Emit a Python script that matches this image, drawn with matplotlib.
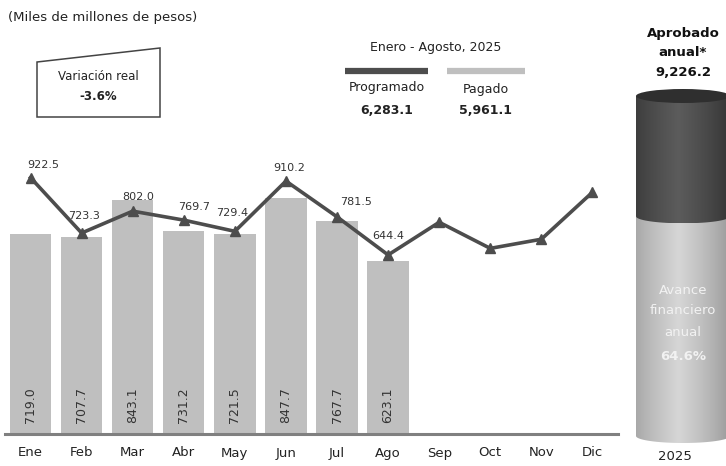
import numpy as np
import matplotlib
matplotlib.use('Agg')
from matplotlib import pyplot as plt
from matplotlib.patches import Polygon, Ellipse

plt.rcParams['font.family'] = ['DejaVu Sans']

meses = ['Ene', 'Feb', 'Mar', 'Abr', 'May', 'Jun', 'Jul', 'Ago', 'Sep', 'Oct', 'Nov', 'Dic']
pagado = [719.0, 707.7, 843.1, 731.2, 721.5, 847.7, 767.7, 623.1]
programado = [922.5, 723.3, 802.0, 769.7, 729.4, 910.2, 781.5, 644.4, 762.0, 668.0, 701.0, 870.0]
# offsets (pixels) of the value labels over the line
lab_off = [(13, 13), (2, 17), (5, 14), (10, 13), (-3, 18), (3, 13), (19, 15), (0, 19)]

aprobado_anual = 9226.2
total_prog = 6283.1
total_pag = 5961.1
variacion = -3.6

W, H = 726, 466
fig = plt.figure(figsize=(W / 100, H / 100), dpi=100)

BAR = '#bfbfbf'
LINE = '#4d4d4d'
TXT = '#333333'

# main chart
ax = fig.add_axes([5 / W, 32 / H, 613 / W, 334 / H])
x = np.arange(len(meses))
ax.bar(x[:len(pagado)], pagado, width=0.81, color=BAR, zorder=1)
ax.plot(x, programado, color=LINE, lw=2.6, marker='^', ms=6.5, zorder=3)
ax.set_xlim(-0.5, 11.5)
ax.set_ylim(0, 1202)
for s in ['top', 'left', 'right']:
    ax.spines[s].set_visible(False)
ax.spines['bottom'].set_color('#808080')
ax.spines['bottom'].set_linewidth(2.2)
ax.set_yticks([])
ax.set_xticks(x)
ax.set_xticklabels(meses, fontsize=9.5, color='#222222')
ax.tick_params(axis='x', length=0, pad=9)

for i, v in enumerate(pagado):
    ax.text(i, 29 * 3.6, f'{v:.1f}', rotation=90, ha='center', va='center',
            fontsize=9, color=TXT, zorder=2)
for i, v in enumerate(programado[:len(lab_off)]):
    ax.annotate(f'{v:.1f}', xy=(i, v), xytext=lab_off[i], textcoords='offset pixels',
                ha='center', va='center', fontsize=8, color=TXT, zorder=4)

# overlay for texts / boxes in pixel coords
ov = fig.add_axes([0, 0, 1, 1], zorder=5)
ov.set_xlim(0, W)
ov.set_ylim(H, 0)
ov.axis('off')
ov.patch.set_alpha(0)

ov.text(8, 18, '(Miles de millones de pesos)', fontsize=9.5, color='#222222', va='center')
ov.add_patch(Polygon([(37, 62), (160, 48), (160, 117), (37, 117)], closed=True,
                     fill=False, ec='#444444', lw=1.1))
ov.text(98, 77, 'Variación real', fontsize=8.5, ha='center', va='center', color='#222222')
ov.text(98, 96, f'{variacion:.1f}%', fontsize=8.5, ha='center', va='center',
        color='#222222', fontweight='bold')

ov.text(436, 48, 'Enero - Agosto, 2025', fontsize=9, ha='center', va='center', color='#222222')
ov.plot([345, 428], [71, 71], color=LINE, lw=4.5, solid_capstyle='butt')
ov.plot([447, 525], [71, 71], color=BAR, lw=4.5, solid_capstyle='butt')
ov.text(387, 88, 'Programado', fontsize=9, ha='center', va='center', color='#222222')
ov.text(387, 110, f'{total_prog:,.1f}', fontsize=9, ha='center', va='center',
        color='#222222', fontweight='bold')
ov.text(486, 89, 'Pagado', fontsize=9, ha='center', va='center', color='#222222')
ov.text(486, 110, f'{total_pag:,.1f}', fontsize=9, ha='center', va='center',
        color='#222222', fontweight='bold')

ov.text(683, 33, 'Aprobado', fontsize=9.5, ha='center', va='center', color='#111111', fontweight='bold')
ov.text(683, 53, 'anual*', fontsize=9.5, ha='center', va='center', color='#111111', fontweight='bold')
ov.text(683, 73, f'{aprobado_anual:,.1f}', fontsize=9.5, ha='center', va='center',
        color='#111111', fontweight='bold')
ov.text(675, 457, '2025', fontsize=9.5, ha='center', va='center', color='#222222')

# cylinder
cx = fig.add_axes([636 / W, 30 / H, 94 / W, 340 / H], zorder=4)
cx.axis('off')
cx.patch.set_alpha(0)
eh = 14 / 340 * aprobado_anual  # ellipse height in data units
split = total_pag


def shade(z, edge, mid, y0, y1, clip):
    t = np.linspace(0, 1, 200)
    prof = np.clip(1 - np.abs(t - 0.45) / 0.6, 0, 1) ** 0.7
    col = np.array(edge) + (np.array(mid) - np.array(edge)) * prof[:, None]
    img = np.tile(col[None, :, :], (2, 1, 1))
    im = cx.imshow(img, extent=[0, 1, y0, y1], aspect='auto', zorder=z)
    im.set_clip_box(fig.bbox)
    im.set_clip_path(clip)


def body(y0, y1, z, edge, mid):
    verts = [(0, y1), (0, y0)]
    th = np.linspace(np.pi, 2 * np.pi, 40)
    verts += [(0.5 + 0.5 * np.cos(a), y0 + eh / 2 * np.sin(a)) for a in th]
    verts += [(1, y1), (0, y1)]
    p = Polygon(verts, closed=True, fc='none', ec='none', clip_on=False)
    cx.add_patch(p)
    shade(z, edge, mid, y0 - eh / 2, y1, p)


body(0, split, 1, (0.55, 0.55, 0.55), (0.84, 0.84, 0.84))
body(split, aprobado_anual, 2, (0.17, 0.17, 0.17), (0.36, 0.36, 0.36))
cx.add_patch(Ellipse((0.5, aprobado_anual), 1, eh, fc='#2f2f2f', ec='none', zorder=3, clip_on=False))
cx.set_xlim(0, 1)
cx.set_ylim(0, aprobado_anual)

for txt, yy, bold in [('Avance', 290, False), ('financiero', 311, False),
                      ('anual', 333, False), ('64.6%', 356, True)]:
    ov.text(683, yy, txt, fontsize=9.5, ha='center', va='center', color='#f2f2f2',
            fontweight='bold' if bold else 'normal', zorder=10)

fig.savefig('out.png', dpi=100)
